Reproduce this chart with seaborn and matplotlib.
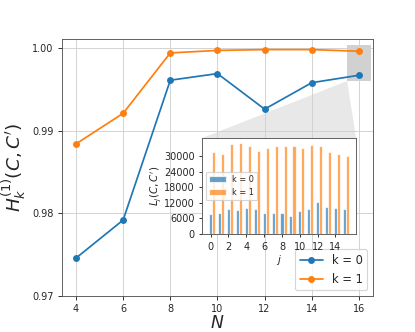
# Main curves H_k^(1) vs N, with an inset bar chart of L_j for N = 16
import numpy as np
import pandas as pd
import seaborn as sns
import matplotlib.pyplot as plt
from matplotlib.patches import Rectangle

# Values
N = [4, 6, 8, 10, 12, 14, 16]
H_k0 = [0.9746, 0.9792, 0.9961, 0.9969, 0.9926, 0.9958, 0.9967]
H_k1 = [0.9884, 0.9921, 0.9994, 0.9997, 0.9998, 0.9998, 0.9996]

# Values
j = np.arange(16)
L_k0 = [7900, 8150, 9800, 9300, 10100, 9600, 8300, 8150,
        8000, 7000, 8900, 9700, 12500, 10300, 10100, 9500]
L_k1 = [31700, 31000, 34800, 35200, 33800, 31900, 33000, 34100,
        33800, 33800, 33000, 34400, 33800, 31700, 30700, 29900]

sns.set_style("ticks", {"axes.grid": True, "grid.color": "0.82",
                        "axes.edgecolor": "0.35"})

fig = plt.figure(figsize=(5, 4), dpi=83)
ax = fig.add_axes([0.149, 0.108, 0.750, 0.775])

sns.lineplot(x=N, y=H_k0, marker="o", color="C0", label="k = 0",
             markersize=6, markeredgewidth=0, ax=ax)
sns.lineplot(x=N, y=H_k1, marker="o", color="C1", label="k = 1",
             markersize=6, markeredgewidth=0, ax=ax)

ax.set_xlim(3.4, 16.6)
ax.set_ylim(0.97, 1.0011)
ax.set_xticks(range(4, 17, 2))
ax.set_yticks([0.97, 0.98, 0.99, 1.00])
ax.set_yticklabels(["0.97", "0.98", "0.99", "1.00"])
ax.tick_params(labelsize=8.5)
ax.set_xlabel("$N$", fontsize=15, labelpad=0)
ax.set_ylabel("$H^{(1)}_k(C, C')$", fontsize=16)
ax.legend(loc="lower right", fontsize=10)

# Inset
ins_pos = [0.487, 0.295, 0.371, 0.289]
axins = fig.add_axes(ins_pos)
w = 0.35
axins.bar(j, L_k0, width=w, color="C0", alpha=0.7, label="k = 0")
axins.bar(j + w, L_k1, width=w, color="C1", alpha=0.7, label="k = 1")
axins.grid(False)
axins.set_xticks(range(0, 15, 2))
axins.set_yticks(range(0, 30001, 6000))
axins.tick_params(labelsize=8.5, length=3)
axins.set_xlabel("$j$", fontsize=9, labelpad=1)
axins.set_ylabel("$L_j(C, C')$", fontsize=9, labelpad=1)
axins.legend(loc="center left", fontsize=7)

# Zoom box around N = 16 and the shaded link to the inset
box_x, box_y = 15.5, 0.996
ax.add_patch(Rectangle((box_x, box_y), 1.0, 0.0043, facecolor="0.82",
                       edgecolor="none", zorder=0.3))
inv = ax.transData.inverted()
tl = inv.transform(fig.transFigure.transform((ins_pos[0], ins_pos[1] + ins_pos[3])))
tr = inv.transform(fig.transFigure.transform((ins_pos[0] + ins_pos[2], ins_pos[1] + ins_pos[3])))
ax.fill([box_x, tl[0], tr[0]], [box_y, tl[1], tr[1]], color="0.91",
        lw=0, zorder=0.3)

fig.savefig("out.png", dpi=83)
